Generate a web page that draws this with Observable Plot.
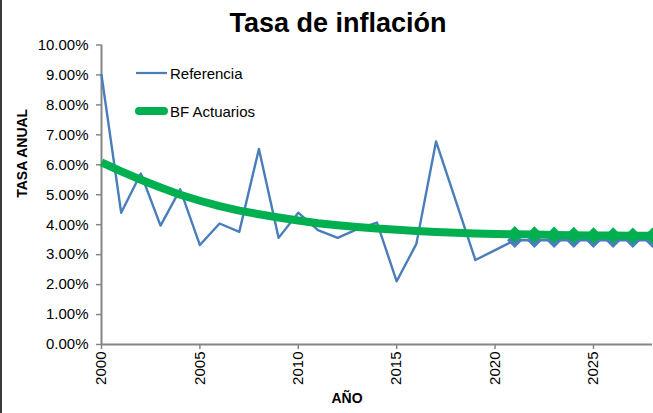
<!DOCTYPE html>
<html><head><meta charset="utf-8">
<script src="https://cdn.jsdelivr.net/npm/d3@7"></script>
<script src="https://cdn.jsdelivr.net/npm/@observablehq/plot@0.6"></script>
<style>
body{margin:0;background:#fff;font-family:"Liberation Sans",Arial,sans-serif;}
#wrap{position:relative;width:653px;height:413px;overflow:hidden;background:#fff;}
#title{position:absolute;left:0;width:676px;top:10px;text-align:center;font-weight:bold;font-size:27px;line-height:27px;color:#000;white-space:nowrap;}
#border{position:absolute;left:0;top:0;width:2px;height:413px;background:#3a3a3a;}
#chart{position:absolute;left:0;top:40px;}
.leg{position:absolute;font-size:15px;line-height:15px;color:#000;white-space:nowrap;}
.legsw{position:absolute;}
</style>
</head><body>
<div id="wrap">
  <div id="border"></div>
  <div id="title">Tasa de inflación</div>
  <div id="chart"></div>
  <svg class="legsw" style="left:130px;top:63px" width="45" height="60">
    <line x1="6" y1="10" x2="37" y2="10" stroke="#4A7EBB" stroke-width="2.25"/>
    <line x1="9" y1="48" x2="34" y2="48" stroke="#00B050" stroke-width="8" stroke-linecap="round"/>
  </svg>
  <div class="leg" style="left:170px;top:65.7px">Referencia</div>
  <div class="leg" style="left:170px;top:103.7px">BF Actuarios</div>
</div>
<script>
const years = [2000,2001,2002,2003,2004,2005,2006,2007,2008,2009,2010,2011,2012,2013,2014,2015,2016,2017,2018,2019,2020,2021,2022,2023,2024,2025,2026,2027,2028];
const referencia = [9.00,4.40,5.71,3.97,5.18,3.32,4.04,3.76,6.53,3.56,4.40,3.82,3.56,3.85,4.07,2.11,3.36,6.78,4.80,2.82,3.15,3.48,3.48,3.48,3.48,3.48,3.48,3.48,3.48];
const bfActuarios = [6.08,5.78,5.50,5.24,5.00,4.80,4.62,4.47,4.35,4.24,4.14,4.05,3.98,3.92,3.87,3.83,3.79,3.76,3.73,3.71,3.69,3.68,3.67,3.66,3.65,3.64,3.64,3.63,3.63];
const yTicks = [0,1,2,3,4,5,6,7,8,9,10];
const xTicks = [2000,2005,2010,2015,2020,2025];
const firstProjectedYear = 2021;

const rows = years.map((y,i)=>({year:y, ref:referencia[i], bf:bfActuarios[i]}));
const proj = rows.filter(d=>d.year>=firstProjectedYear);

const chart = Plot.plot({
  width:653, height:373,
  marginLeft:101, marginRight:1, marginTop:4.5, marginBottom:69,
  style:{fontFamily:'"Liberation Sans", Arial, sans-serif', background:'transparent', overflow:'visible', color:'#000'},
  x:{domain:[2000,2028]},
  y:{domain:[0,10]},
  marks:[
    Plot.axisY({ticks:yTicks, tickFormat:d=>d.toFixed(2)+"%", tickSize:5, tickPadding:8, fontSize:15, stroke:"#868686", strokeWidth:1.5, fill:"#000", label:null}),
    Plot.axisX({ticks:xTicks, tickFormat:d=>String(d), tickRotate:-90, tickSize:5, tickPadding:2, fontSize:15, stroke:"#868686", strokeWidth:1.5, fill:"#000", label:null}),
    Plot.ruleX([2000], {stroke:"#868686", strokeWidth:2}),
    Plot.ruleY([0], {stroke:"#868686", strokeWidth:2}),
    Plot.line(rows, {x:"year", y:"ref", stroke:"#4A7EBB", strokeWidth:2.4}),
    Plot.dot(proj, {x:"year", y:"ref", symbol:"diamond2", r:7, fill:"#4A7EBB", stroke:"none"}),
    Plot.line(rows, {x:"year", y:"bf", stroke:"#00B050", strokeWidth:8, strokeLinecap:"butt"}),
    Plot.dot(proj, {x:"year", y:"bf", symbol:"diamond2", r:7.5, fill:"#00B050", stroke:"none"}),
    Plot.text(["TASA ANUAL"], {frameAnchor:"left", dx:-79, dy:3, rotate:-90, fontSize:14, fontWeight:"bold", fill:"#000"}),
    Plot.text(["AÑO"], {frameAnchor:"bottom", dx:-30, dy:54, fontSize:14, fontWeight:"bold", lineAnchor:"middle", fill:"#000"})
  ]
});
document.getElementById("chart").appendChild(chart);
</script>
</body></html>
